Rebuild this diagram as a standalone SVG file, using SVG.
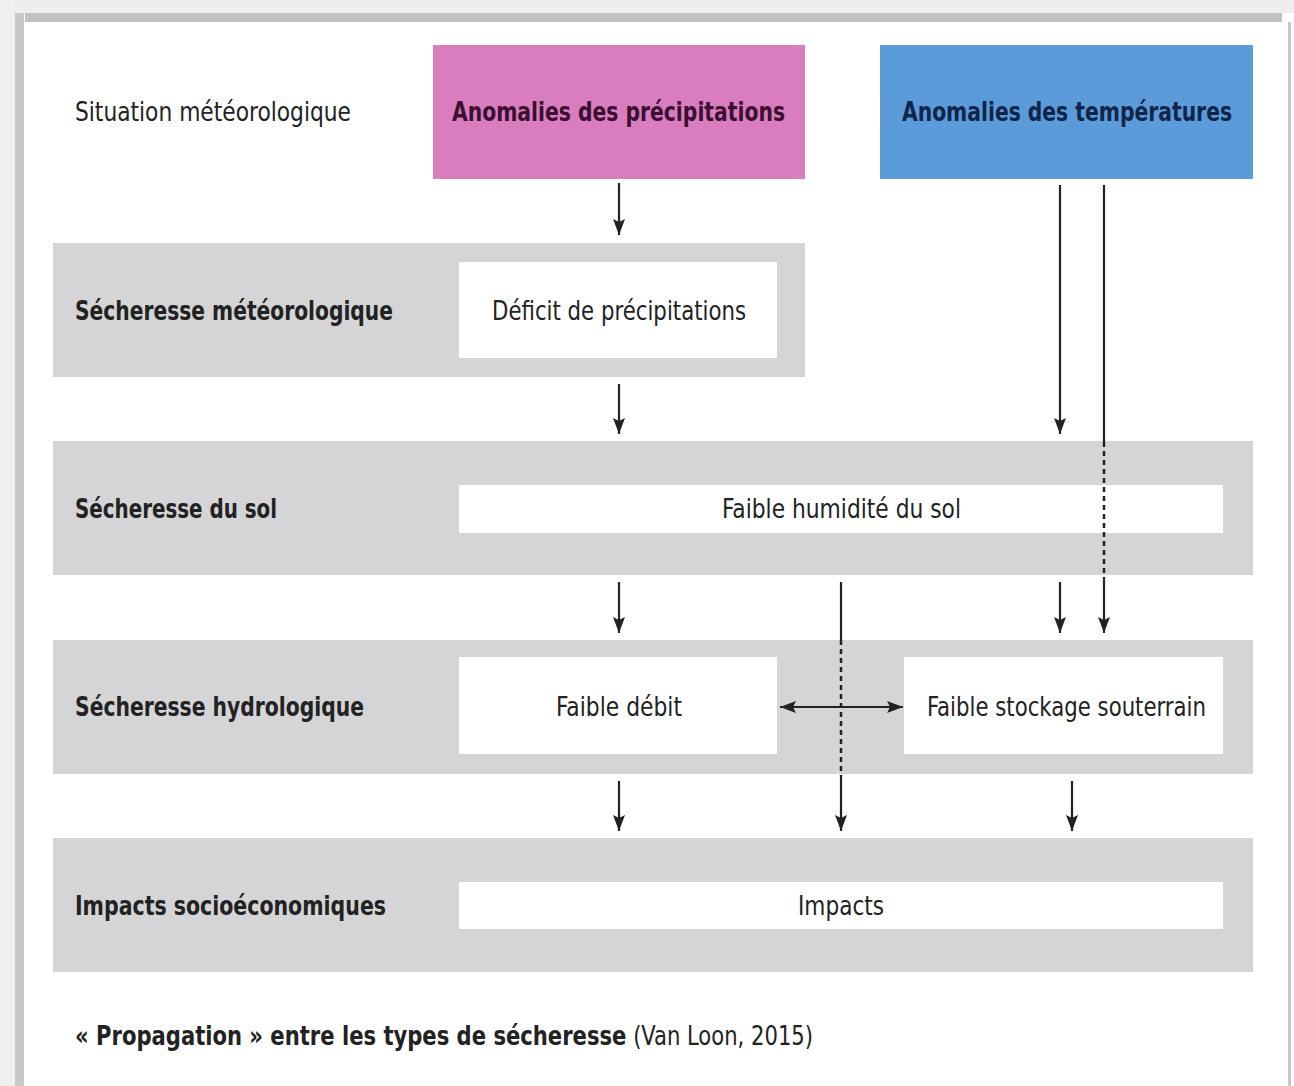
<svg xmlns="http://www.w3.org/2000/svg" width="1294" height="1086" viewBox="0 0 1294 1086">
<defs>
<style>
.t{font-family:"Liberation Sans Narrow","DejaVu Sans Condensed","Liberation Sans",sans-serif;font-size:27px;fill:#222;font-stretch:condensed}
.b{font-weight:bold}
.band{fill:#d5d5d7}
.box{fill:#ffffff}
.ln{stroke:#222;stroke-width:2.2;fill:none}
.dash{stroke:#222;stroke-width:2.5;fill:none;stroke-dasharray:5 4}
</style>
<marker id="ah" viewBox="0 0 16 12" refX="16" refY="6" markerWidth="16" markerHeight="12" markerUnits="userSpaceOnUse" orient="auto-start-reverse">
<path d="M0,0 L16,6 L0,12 L3,6 z" fill="#222"/>
</marker>
</defs>
<rect x="0" y="0" width="1294" height="1086" fill="#ffffff"/>
<g id="frame">
<rect x="0" y="0" width="1294" height="13" fill="#eeeeee"/>
<rect x="0" y="0" width="15" height="1086" fill="#f0f0f0"/>
<rect x="25" y="13" width="1257" height="9" fill="#c2c2c2"/>
<rect x="15" y="13" width="9" height="1073" fill="#c8c8c8"/>
<rect x="1288" y="22" width="3" height="1064" fill="#c8c8c8"/>
</g>
<g id="situation">
<text class="t" x="75" y="121" textLength="276" lengthAdjust="spacingAndGlyphs">Situation météorologique</text>
</g>
<g id="precip">
<rect x="433" y="45" width="372" height="134" fill="#d97dbe"/>
<text class="t b" x="452" y="121" textLength="333" lengthAdjust="spacingAndGlyphs" style="fill:#3a0f32">Anomalies des précipitations</text>
</g>
<g id="temp">
<rect x="880" y="45" width="373" height="134" fill="#5b9bd9"/>
<text class="t b" x="902" y="121" textLength="330" lengthAdjust="spacingAndGlyphs" style="fill:#10254a;font-size:26px">Anomalies des températures</text>
</g>
<g id="row-meteo">
<rect class="band" x="53" y="243" width="752" height="134"/>
<text class="t b" x="75" y="320" textLength="318" lengthAdjust="spacingAndGlyphs">Sécheresse météorologique</text>
<rect class="box" x="459" y="262" width="318" height="96"/>
<text class="t" x="492" y="320" textLength="254" lengthAdjust="spacingAndGlyphs">Déficit de précipitations</text>
</g>
<g id="row-sol">
<rect class="band" x="53" y="441" width="1200" height="134"/>
<text class="t b" x="75" y="518" textLength="202" lengthAdjust="spacingAndGlyphs">Sécheresse du sol</text>
<rect class="box" x="459" y="485" width="764" height="48"/>
<text class="t" x="722" y="518" textLength="239" lengthAdjust="spacingAndGlyphs">Faible humidité du sol</text>
</g>
<g id="row-hydro">
<rect class="band" x="53" y="640" width="1200" height="134"/>
<text class="t b" x="75" y="716" textLength="289" lengthAdjust="spacingAndGlyphs">Sécheresse hydrologique</text>
<rect class="box" x="459" y="657" width="318" height="97"/>
<text class="t" x="556" y="716" textLength="126" lengthAdjust="spacingAndGlyphs">Faible débit</text>
<rect class="box" x="904" y="657" width="319" height="97"/>
<text class="t" x="927" y="716" textLength="279" lengthAdjust="spacingAndGlyphs">Faible stockage souterrain</text>
</g>
<g id="row-impacts">
<rect class="band" x="53" y="838" width="1200" height="134"/>
<text class="t b" x="75" y="915" textLength="311" lengthAdjust="spacingAndGlyphs">Impacts socioéconomiques</text>
<rect class="box" x="459" y="882" width="764" height="47"/>
<text class="t" x="798" y="915" textLength="86" lengthAdjust="spacingAndGlyphs">Impacts</text>
</g>
<g id="caption">
<text class="t" x="75" y="1045" textLength="738" lengthAdjust="spacingAndGlyphs"><tspan class="b">« Propagation » entre les types de sécheresse</tspan> (Van Loon, 2015)</text>
</g>
<g id="connectors">
<line class="ln" x1="619" y1="183" x2="619" y2="235" marker-end="url(#ah)"/>
<line class="ln" x1="619" y1="384" x2="619" y2="434" marker-end="url(#ah)"/>
<line class="ln" x1="619" y1="582" x2="619" y2="633" marker-end="url(#ah)"/>
<line class="ln" x1="619" y1="781" x2="619" y2="831" marker-end="url(#ah)"/>
<line class="ln" x1="1060" y1="185" x2="1060" y2="434" marker-end="url(#ah)"/>
<line class="ln" x1="1104" y1="185" x2="1104" y2="442"/>
<line class="dash" x1="1104" y1="442" x2="1104" y2="578"/>
<line class="ln" x1="1104" y1="578" x2="1104" y2="633" marker-end="url(#ah)"/>
<line class="ln" x1="1060" y1="582" x2="1060" y2="633" marker-end="url(#ah)"/>
<line class="ln" x1="841" y1="582" x2="841" y2="640"/>
<line class="dash" x1="841" y1="640" x2="841" y2="776"/>
<line class="ln" x1="841" y1="776" x2="841" y2="831" marker-end="url(#ah)"/>
<line class="ln" x1="1072" y1="781" x2="1072" y2="831" marker-end="url(#ah)"/>
<line class="ln" x1="780" y1="707" x2="903" y2="707" marker-start="url(#ah)" marker-end="url(#ah)"/>
</g>
</svg>
